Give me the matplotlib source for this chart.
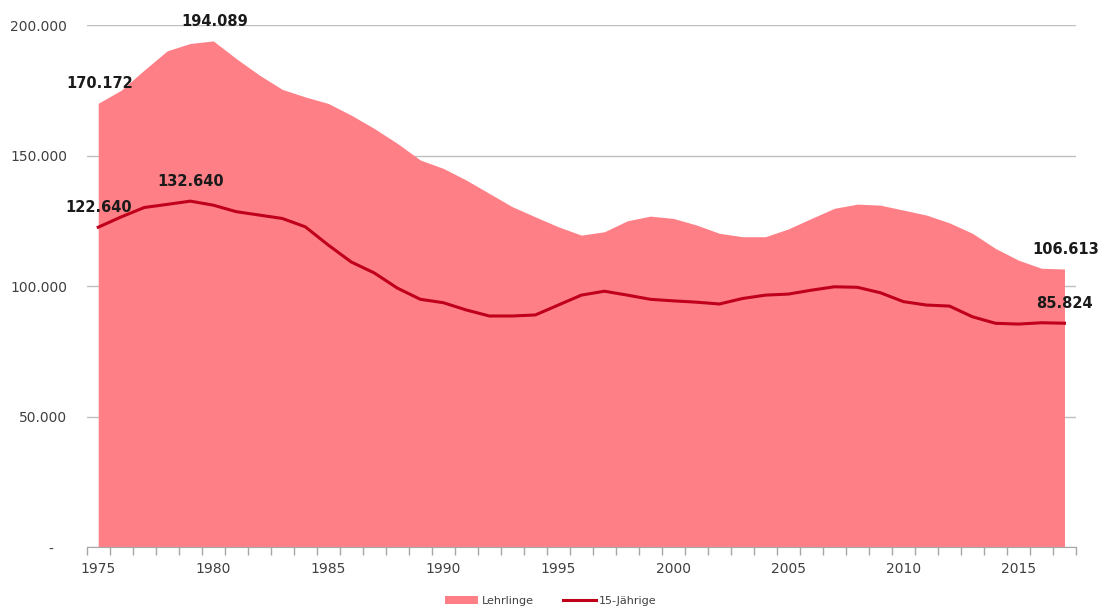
import numpy as np
import matplotlib
matplotlib.use("Agg")
import matplotlib.pyplot as plt
from matplotlib.patches import Patch
from matplotlib.lines import Line2D
from matplotlib.ticker import FixedLocator, FuncFormatter

# data
years = list(range(1975, 2018))
lehrlinge = [170172, 175200, 182900, 190300, 193100, 194089, 187300, 181000, 175500, 172600,
             170100, 165600, 160500, 154800, 148400, 145200, 140700, 135600, 130500, 126600,
             122800, 119600, 120900, 125100, 126900, 126000, 123500, 120300, 119000, 119000,
             122000, 126000, 129900, 131500, 131100, 129200, 127300, 124300, 120300, 114500,
             110000, 106900, 106613]
jaehrige = [122640, 126600, 130200, 131400, 132640, 131100, 128600, 127300, 126000, 122800,
            115800, 109300, 105100, 99300, 95000, 93700, 90900, 88600, 88600, 89000,
            92800, 96600, 98100, 96600, 95000, 94400, 93900, 93200, 95300, 96600,
            97000, 98500, 99800, 99600, 97500, 94100, 92800, 92400, 88300, 85800,
            85500, 86000, 85824]
label_years_lehr = [1975, 1980, 2017]
label_years_15 = [1975, 1979, 2017]
yticks = [0, 50000, 100000, 150000, 200000]

area_col = "#FF7F86"
line_col = "#C0001A"
text_col = "#404040"


def de_fmt(v, pos=None):
    if v == 0:
        return "-   "
    return f"{int(v):,}".replace(",", ".")


fig = plt.figure(figsize=(11.02, 6.07), dpi=100)
ax = fig.add_axes([0.0787, 0.0988, 0.8977, 0.8592])

ax.fill_between(years, lehrlinge, 0, color=area_col, lw=0, zorder=2)
ax.plot(years, jaehrige, color=line_col, lw=2.2, zorder=3, solid_joinstyle="round")

ax.set_xlim(1974.5, 2017.5)
ax.set_ylim(0, 200000)

# grid
ax.set_yticks(yticks)
ax.yaxis.set_major_formatter(FuncFormatter(de_fmt))
ax.grid(axis="y", color="#BFBFBF", lw=1, zorder=1)
ax.set_axisbelow(True)
ax.tick_params(axis="y", length=0, pad=14, labelsize=10, labelcolor=text_col)

# x ticks: labels every 5 years, small marks between categories
ax.xaxis.set_major_locator(FixedLocator(list(range(1975, 2016, 5))))
ax.xaxis.set_minor_locator(FixedLocator(list(np.arange(1974.5, 2018, 1.0))))
ax.tick_params(axis="x", which="major", length=0, pad=11, labelsize=10, labelcolor=text_col)
ax.tick_params(axis="x", which="minor", length=6, color="#A6A6A6", width=1)

for s in ["top", "right", "left"]:
    ax.spines[s].set_visible(False)
ax.spines["bottom"].set_color("#A6A6A6")
ax.spines["bottom"].set_zorder(4)

# value labels
for yr in label_years_lehr:
    v = lehrlinge[years.index(yr)]
    ax.annotate(de_fmt(v), (yr, v), xytext=(1, 14), textcoords="offset points",
                ha="center", va="center", fontsize=10.5, fontweight="bold", color="#1a1a1a", zorder=5)
for yr in label_years_15:
    v = jaehrige[years.index(yr)]
    ax.annotate(de_fmt(v), (yr, v), xytext=(0, 14), textcoords="offset points",
                ha="center", va="center", fontsize=10.5, fontweight="bold", color="#1a1a1a", zorder=5)

handles = [Patch(facecolor=area_col, edgecolor="none"),
           Line2D([0], [0], color=line_col, lw=2.2)]
fig.legend(handles, ["Lehrlinge", "15-Jährige"], loc="center", bbox_to_anchor=(0.5, 0.01),
           ncol=2, frameon=False, fontsize=8, handlelength=3, handleheight=0.6,
           handletextpad=0.3, columnspacing=2.6, labelcolor=text_col)

fig.savefig("out.png", dpi=100)
